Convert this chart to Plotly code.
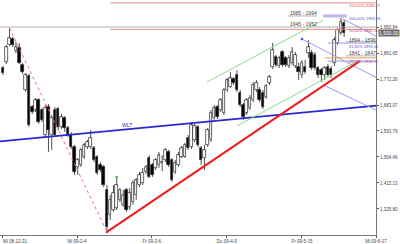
import plotly.graph_objects as go

# ---------------- data ----------------
opens = [1810,1831,1889,1910,1869,1879,1821,1735,1783,1676,1666,1700,1666,1580,1676,1580,1666,1669,1608,1638,
         1604,1580,1539,1470,1477,1505,1539,1539,1535,1505,1477,1470,1391,1305,1322,1329,1357,1340,1391,1333,
         1350,1374,1408,1415,1453,1501,1477,1467,1477,1484,1494,1522,1494,1453,1477,1505,1505,1570,1539,1563,
         1608,1535,1501,1546,1563,1638,1676,1666,1656,1735,1745,1772,1786,1724,1683,1656,1673,1700,1735,1735,
         1724,1711,1759,1814,1848,1817,1865,1845,1817,1828,1817,1814,1786,1814,1862,1862,1855,1810,1803,1786,
         1814,1807,1828,1896,1931,1965]
highs = [1817,1889,1948,1917,1900,1896,1828,1793,1790,1683,1707,1707,1673,1683,1687,1649,1676,1676,1652,1645,
         1611,1590,1546,1501,1535,1553,1563,1597,1542,1511,1487,1477,1408,1374,1408,1436,1398,1391,1398,1398,
         1425,1432,1453,1467,1477,1511,1484,1501,1522,1511,1535,1529,1501,1494,1522,1542,1553,1580,1625,1618,
         1614,1542,1546,1604,1666,1683,1683,1707,1742,1776,1797,1779,1803,1735,1690,1707,1717,1762,1769,1745,
         1735,1755,1786,1896,1855,1852,1872,1852,1855,1882,1865,1828,1838,1838,1906,1872,1865,1817,1810,1817,
         1824,1817,1917,1948,1979,1975]
lows = [1786,1824,1886,1882,1862,1824,1790,1728,1608,1652,1659,1618,1625,1570,1522,1529,1573,1597,1601,1590,
        1573,1532,1443,1443,1470,1498,1532,1532,1487,1443,1453,1401,1247,1288,1316,1322,1350,1333,1316,1322,
        1340,1357,1401,1408,1446,1432,1436,1460,1467,1456,1487,1470,1419,1446,1470,1501,1501,1529,1532,1556,
        1539,1477,1460,1539,1556,1632,1635,1659,1649,1728,1742,1752,1728,1676,1632,1649,1666,1693,1728,1693,
        1669,1704,1752,1807,1814,1810,1814,1814,1810,1821,1810,1769,1776,1790,1845,1803,1803,1776,1762,1769,
        1779,1776,1817,1889,1924,1917]
closes = [1793,1882,1913,1889,1882,1828,1797,1786,1614,1659,1700,1625,1632,1673,1597,1638,1580,1608,1642,1604,
          1580,1539,1453,1494,1529,1546,1556,1570,1494,1450,1460,1408,1264,1357,1381,1408,1391,1374,1322,1381,
          1415,1425,1443,1450,1470,1436,1443,1494,1511,1487,1529,1477,1425,1484,1511,1535,1546,1535,1614,1611,
          1546,1494,1529,1597,1656,1673,1642,1700,1735,1769,1776,1759,1735,1683,1642,1700,1707,1752,1759,1700,
          1676,1748,1779,1872,1821,1845,1821,1821,1845,1865,1855,1797,1828,1797,1882,1810,1810,1786,1786,1810,
          1786,1786,1906,1941,1968,1931]
bars = list(range(len(closes)))

tick_bars = [0, 22.8, 45.8, 68.9, 92, 114.8]
tick_dates = ["Mi 08-12-31", "Mi 09-2-4", "Fr 09-3-6", "Do 09-4-9", "Fr 09-5-15", "Mi 09-6-17"]

price_ticks = [1325.80, 1415.13, 1504.46, 1593.79, 1683.07, 1772.26, 1861.65, 1950.84]
price_labels = ["1,325.80", "1,415.13", "1,504.46", "1,593.79", "1,683.07", "1,772.26", "1,861.65", "1,950.84"]
last_price = 1930.00

# trend lines (bar, price)
down_line = ([2, 32], [1948, 1247])
up_line = ([32, 109.8], [1247, 1834])
wlt_line = ([-0.9, 114.8], [1558, 1681])
green_upper = ([62.8, 98.5], [1762, 1975])
green_lower = ([72, 109.8], [1611, 1838])
lav_lines = [([92, 114.8], [1910, 1778]), ([98.5, 114.8], [1752, 1666]), ([104.6, 114.8], [1979, 1920])]

high_level = 1951
red_levels = [2034, 1943]
zone_labels = ["1985 - 1994", "1945 - 1952", "1894 - 1896", "1841 - 1847"]
fib_texts = ["113,00% 2036.07", "100,00% 1993.35", "50,00% 1942.10", "61,80% 1893.01", "38,20% 1843.96"]

X0, X1 = -0.92, 114.8
Y0, Y1 = 1236.4, 2043.9
FONT = "Liberation Sans"

fig = go.Figure()

# candle wicks (above and below the body)
wx, wy = [], []
for i, o, h, l, c in zip(bars, opens, highs, lows, closes):
    top, bot = max(o, c), min(o, c)
    wx += [i, i, None, i, i, None]
    wy += [h, top, None, bot, l, None]
fig.add_trace(go.Scatter(x=wx, y=wy, mode="lines", line=dict(color="#222222", width=0.8),
                         showlegend=False, hoverinfo="skip"))

# candle bodies
body_base = [min(o, c) for o, c in zip(opens, closes)]
body_len = [max(abs(c - o), 1.5) for o, c in zip(opens, closes)]
body_fill = ["white" if c >= o else "black" for o, c in zip(opens, closes)]
fig.add_trace(go.Bar(x=bars, y=body_len, base=body_base, width=0.78,
                     marker=dict(color=body_fill, line=dict(color="#222222", width=0.7)),
                     showlegend=False, hoverinfo="skip"))

def seg(xs, ys, color, width=1, dash="solid"):
    fig.add_trace(go.Scatter(x=xs, y=ys, mode="lines", line=dict(color=color, width=width, dash=dash),
                             showlegend=False, hoverinfo="skip"))

seg([X0, X1], [high_level, high_level], "#b0b0b0", 1)
for lv in red_levels:
    seg([33, X1], [lv, lv], "#f08a8a", 1)
seg(*down_line, "#f07070", 1, "dot")
seg(*wlt_line, "#2828d0", 1.6)
seg(*green_upper, "#88dd88", 1)
seg(*green_lower, "#88dd88", 1)
for xs, ys in lav_lines:
    seg(xs, ys, "#9a9af0", 1)
seg(*up_line, "#ee1c1c", 2)
# zone lines
seg([87.7, 96.6], [1989, 1989], "#b0b0b0", 1)
seg([98.5, 105.8], [1989, 1989], "#b8b8f4", 3)
seg([100, X1], [1896, 1896], "#9a9af0", 1)
seg([99, X1], [1845, 1845], "#f0a040", 1)
seg([100, X1], [1834, 1834], "#9a9af0", 1)
seg([105.5, X1], [1900, 1900], "#b0b0b0", 1)
seg([105.5, X1], [1852, 1852], "#b0b0b0", 1)

fig.add_trace(go.Scatter(x=[32, 104, 35, 92], y=[1247, 1979, 1436, 1910], mode="markers",
                         marker=dict(color=["#e03030", "#f09030", "#30c030", "#5050e0"], size=2.5),
                         showlegend=False, hoverinfo="skip"))

ann = []
def txt(xp, yp, t, color, size=5, anchor="left"):
    ann.append(dict(x=xp / 376, y=1 - yp / 235, xref="paper", yref="paper", text=t, showarrow=False,
                    xanchor=anchor, yanchor="middle", font=dict(family=FONT, size=size, color=color)))

txt(120, 125, "WLT", "#2828d0", 5)
txt(288, 13, zone_labels[0], "#444444", 5)
txt(288, 24, zone_labels[1], "#444444", 5)
txt(347, 40, zone_labels[2], "#444444", 5)
txt(347, 53, zone_labels[3], "#444444", 5)
txt(347, 5, fib_texts[0], "#e04848", 4)
txt(347, 18, fib_texts[1], "#5050d0", 4)
txt(347, 31, fib_texts[2], "#c04080", 4)
txt(347, 46, fib_texts[3], "#6050c0", 4)
txt(347, 62, fib_texts[4], "#c04080", 4)

# first date label (kept inside the picture)
ann.append(dict(x=0, y=0, xref="paper", yref="paper", text=tick_dates[0], showarrow=False,
                xanchor="left", yanchor="top", yshift=-2, xshift=1,
                font=dict(family=FONT, size=4.5, color="#444")))

ann.append(dict(x=1, y=last_price, xref="paper", yref="y", text="1,930.00", showarrow=False,
                xanchor="left", yanchor="middle", xshift=2, bgcolor="#6a6a6a", borderpad=0,
                font=dict(family=FONT, size=5, color="white")))

fig.update_layout(
    width=400, height=244, margin=dict(l=0, r=24, t=0, b=9),
    paper_bgcolor="white", plot_bgcolor="white", annotations=ann, bargap=0,
    xaxis=dict(range=[X0, X1], showgrid=False, zeroline=False,
               tickvals=tick_bars, ticktext=[""] + tick_dates[1:], ticks="outside", ticklen=2, tickcolor="#555",
               showline=True, linecolor="#777", linewidth=1,
               tickfont=dict(family=FONT, size=4.5, color="#444")),
    yaxis=dict(range=[Y0, Y1], side="right", showgrid=False, zeroline=False,
               tickvals=price_ticks, ticktext=price_labels, ticks="outside", ticklen=2, tickcolor="#555",
               showline=True, linecolor="#777", linewidth=1,
               tickfont=dict(family=FONT, size=4.5, color="#444")),
)
fig.write_html("out.html")
